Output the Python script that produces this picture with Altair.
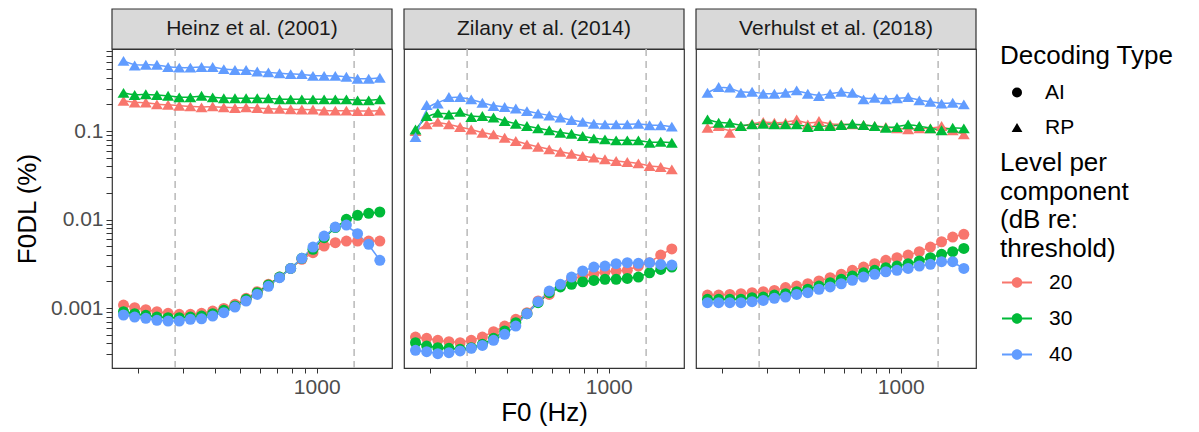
import altair as alt
import pandas as pd

FONT = "Liberation Sans"

# ---------------- data ----------------
F0 = [176, 194.6, 215.1, 237.7, 262.8, 290.5, 321.1, 355.0, 392.4, 433.7, 479.5, 530.0,
      585.9, 647.6, 715.9, 791.4, 874.8, 967.0, 1069, 1182, 1306, 1444, 1596, 1764]

MODELS = ["Heinz et al. (2001)", "Zilany et al. (2014)", "Verhulst et al. (2018)"]
LEVELS = ["20", "30", "40"]
TYPES = ["AI", "RP"]
COLORS = ["#F8766D", "#00BA38", "#619CFF"]
VLINES = [280, 1400]

HEINZ_RP_20 = [0.22, 0.21, 0.21, 0.20, 0.198, 0.193, 0.19, 0.185, 0.19, 0.185, 0.182, 0.185,
               0.182, 0.178, 0.178, 0.176, 0.175, 0.175, 0.17, 0.17, 0.17, 0.168, 0.168, 0.17]
HEINZ_RP_30 = [0.27, 0.255, 0.26, 0.255, 0.25, 0.24, 0.24, 0.25, 0.24, 0.235, 0.235, 0.235,
               0.235, 0.235, 0.228, 0.228, 0.228, 0.228, 0.228, 0.228, 0.228, 0.222, 0.222, 0.228]
HEINZ_RP_40 = [0.62, 0.55, 0.56, 0.56, 0.53, 0.52, 0.52, 0.53, 0.53, 0.50, 0.49, 0.49,
               0.47, 0.46, 0.45, 0.44, 0.44, 0.42, 0.42, 0.42, 0.41, 0.39, 0.39, 0.40]
HEINZ_AI_20 = [0.00108, 0.00101, 0.000957, 0.00091, 0.00087, 0.000848, 0.000848, 0.00087,
               0.000925, 0.00099, 0.0011, 0.001286, 0.00153, 0.00185, 0.00224, 0.0028,
               0.00355, 0.00422, 0.00502, 0.00547, 0.00571, 0.00571, 0.00571, 0.00571]
HEINZ_AI_30 = [0.00091, 0.000863, 0.000826, 0.000791, 0.000778, 0.000778, 0.000791, 0.000812,
               0.000863, 0.000942, 0.001054, 0.001253, 0.00149, 0.00182, 0.00224, 0.0028,
               0.00364, 0.0046, 0.00623, 0.0081, 0.01005, 0.01114, 0.01175, 0.01216]
HEINZ_AI_40 = [0.000834, 0.000791, 0.000764, 0.000726, 0.000713, 0.000713, 0.000745, 0.000754,
               0.000812, 0.000885, 0.001026, 0.0012, 0.001426, 0.001758, 0.0022, 0.0028,
               0.00364, 0.00489, 0.00651, 0.00822, 0.00866, 0.00692, 0.00524, 0.00346]

ZILANY_RP_20 = [0.1, 0.119, 0.127, 0.119, 0.111, 0.104, 0.0957, 0.0917, 0.084, 0.077, 0.0707, 0.0665,
                0.0621, 0.0584, 0.0554, 0.0522, 0.05, 0.0479, 0.0458, 0.0447, 0.0431, 0.0402, 0.0392, 0.0369]
ZILANY_RP_30 = [0.104, 0.148, 0.161, 0.154, 0.165, 0.144, 0.148, 0.142, 0.130, 0.121, 0.114, 0.107,
                0.102, 0.0957, 0.0933, 0.0879, 0.0826, 0.0805, 0.0785, 0.0785, 0.0785, 0.0738, 0.0757, 0.0738]
ZILANY_RP_40 = [0.0855, 0.197, 0.204, 0.242, 0.242, 0.228, 0.209, 0.192, 0.187, 0.180, 0.168, 0.158,
                0.150, 0.142, 0.133, 0.127, 0.121, 0.119, 0.119, 0.119, 0.121, 0.116, 0.116, 0.112]
ZILANY_AI_20 = [0.00047, 0.000454, 0.000431, 0.000417, 0.000405, 0.000431, 0.00047, 0.00054,
                0.000626, 0.000745, 0.000885, 0.0012, 0.001426, 0.00177, 0.00211, 0.0023,
                0.00244, 0.00257, 0.00262, 0.00267, 0.00298, 0.00325, 0.00397, 0.00465]
ZILANY_AI_30 = [0.000405, 0.000372, 0.000356, 0.00035, 0.000341, 0.000356, 0.000389, 0.000454,
                0.00055, 0.000682, 0.000863, 0.00115, 0.00149, 0.00173, 0.00185, 0.00198,
                0.00205, 0.00211, 0.00211, 0.00216, 0.00224, 0.0025, 0.00273, 0.0029]
ZILANY_AI_40 = [0.000333, 0.000321, 0.000305, 0.000313, 0.000327, 0.00035, 0.000378, 0.000431,
                0.000504, 0.000626, 0.000863, 0.00118, 0.001556, 0.00185, 0.00224, 0.00262,
                0.0029, 0.00298, 0.00317, 0.00325, 0.0032, 0.00325, 0.00311, 0.00306]

VERHULST_RP_20 = [0.109, 0.114, 0.0957, 0.114, 0.121, 0.127, 0.124, 0.124, 0.1355, 0.119, 0.130, 0.119,
                  0.119, 0.119, 0.117, 0.114, 0.111, 0.107, 0.1045, 0.107, 0.107, 0.114, 0.102, 0.0917]
VERHULST_RP_30 = [0.1355, 0.124, 0.124, 0.114, 0.119, 0.121, 0.119, 0.119, 0.119, 0.111, 0.114, 0.114,
                  0.117, 0.121, 0.117, 0.114, 0.109, 0.111, 0.119, 0.114, 0.107, 0.102, 0.109, 0.107]
VERHULST_RP_40 = [0.271, 0.314, 0.309, 0.271, 0.278, 0.264, 0.264, 0.271, 0.288, 0.264, 0.249, 0.264,
                  0.278, 0.271, 0.228, 0.238, 0.228, 0.234, 0.242, 0.222, 0.214, 0.204, 0.209, 0.2]
VERHULST_AI_20 = [0.0014, 0.0014, 0.001426, 0.00145, 0.00149, 0.00153, 0.00158, 0.0017,
                  0.00177, 0.00188, 0.00202, 0.0022, 0.0024, 0.00267, 0.0029, 0.00317,
                  0.00346, 0.00371, 0.00397, 0.00433, 0.00489, 0.00561, 0.00634, 0.0068]
VERHULST_AI_30 = [0.001253, 0.001253, 0.001253, 0.001253, 0.00131, 0.00133, 0.0014, 0.00145,
                  0.00153, 0.00163, 0.00177, 0.00193, 0.00211, 0.0023, 0.0025, 0.00267,
                  0.00286, 0.00298, 0.00317, 0.0034, 0.00371, 0.00404, 0.00433, 0.00472]
VERHULST_AI_40 = [0.00115, 0.00115, 0.00115, 0.00115, 0.00118, 0.00122, 0.001286, 0.00133,
                  0.001426, 0.00149, 0.00163, 0.00173, 0.00188, 0.00206, 0.00224, 0.0024,
                  0.00257, 0.00267, 0.0028, 0.00298, 0.00312, 0.00334, 0.00334, 0.0028]

SERIES = {
    MODELS[0]: {"AI": [HEINZ_AI_20, HEINZ_AI_30, HEINZ_AI_40],
                "RP": [HEINZ_RP_20, HEINZ_RP_30, HEINZ_RP_40]},
    MODELS[1]: {"AI": [ZILANY_AI_20, ZILANY_AI_30, ZILANY_AI_40],
                "RP": [ZILANY_RP_20, ZILANY_RP_30, ZILANY_RP_40]},
    MODELS[2]: {"AI": [VERHULST_AI_20, VERHULST_AI_30, VERHULST_AI_40],
                "RP": [VERHULST_RP_20, VERHULST_RP_30, VERHULST_RP_40]},
}

X_TICKS = [200, 300, 400, 500, 600, 700, 800, 900, 1000]
Y_TICKS = [round(k * 10 ** e, 6) for e in (-4, -3, -2, -1) for k in range(1, 10)]
Y_TICKS = [v for v in Y_TICKS if 0.00021 <= v <= 0.845]


def frame(model):
    rows = []
    for typ in TYPES:
        for lev, vals in zip(LEVELS, SERIES[model][typ]):
            for f, v in zip(F0, vals):
                rows.append({"F0": f, "F0DL": v, "type": typ, "level": lev})
    return pd.DataFrame(rows)


W, H, STRIP = 280, 319, 40
xscale = alt.Scale(type="log", domain=[158.7, 1968], nice=False)
yscale = alt.Scale(type="log", domain=[0.00021, 0.845], nice=False)
cscale = alt.Scale(domain=LEVELS, range=COLORS)
TRI = "M0,-0.9L1.08,0.9L-1.08,0.9Z"
sscale = alt.Scale(domain=TYPES, range=["circle", TRI])

LEG_X = 882
shape_legend = alt.Legend(
    title="Decoding Type", orient="none", legendX=LEG_X, legendY=-12, padding=6,
    titleBaseline="top",
    symbolSize=100, symbolFillColor="black", symbolStrokeColor="black", symbolStrokeWidth=0,
    symbolOffset=6.5, labelOffset=17.5, rowPadding=13, titlePadding=13)

SYM = ("M-1,-0.07H-0.3V0.07H-1Z M0.3,-0.07H1V0.07H0.3Z "
       "M0.35,0A0.35,0.35,0,1,1,-0.35,0A0.35,0.35,0,1,1,0.35,0Z")
color_legend = alt.Legend(
    title=["Level per", "component", "(dB re:", "threshold)"], orient="none",
    legendX=LEG_X, legendY=95, padding=6, titleBaseline="top",
    symbolType=SYM, symbolSize=900, symbolStrokeWidth=0,
    symbolOffset=2, labelOffset=17, rowPadding=11, titlePadding=6, titleLineHeight=28.5)


def xaxis(title):
    return alt.Axis(values=X_TICKS, labelExpr="datum.value == 1000 ? '1000' : ''",
                    tickSize=5, tickColor="#333333", domain=False, grid=False,
                    labelFontSize=21, labelColor="#4D4D4D", labelPadding=3, labelOverlap=False,
                    labelFlush=False, title=title if title else "", titleFontSize=26,
                    titleFontWeight="normal", titleColor="black", titlePadding=2)


def yaxis():
    return alt.Axis(values=Y_TICKS,
                    labelExpr="datum.value == 0.1 ? '0.1' : datum.value == 0.01 ? '0.01' : datum.value == 0.001 ? '0.001' : ''",
                    tickSize=6, tickColor="#333333", domain=False, grid=False,
                    labelFontSize=21, labelColor="#4D4D4D", labelPadding=3, labelOverlap=False,
                    labelFlush=False, title="F0DL (%)", titleFontSize=26,
                    titleFontWeight="normal", titleColor="black", titlePadding=10)


def panel(i, model):
    df = frame(model)
    xa = xaxis("F0 (Hz)" if i == 1 else None)
    ya = yaxis() if i == 0 else None
    yenc_kw = dict(scale=yscale, axis=ya)

    head = pd.DataFrame({"t": [model]})
    strip_bg = alt.Chart(head).mark_rect(
        fill="#D9D9D9", stroke="#333333", strokeWidth=1.2
    ).encode(x=alt.value(0), x2=alt.value(W), y=alt.value(-STRIP), y2=alt.value(0))
    strip_txt = alt.Chart(head).mark_text(
        fontSize=21, font=FONT, color="#1A1A1A", align="center", baseline="middle"
    ).encode(text="t:N", x=alt.value(W / 2), y=alt.value(-STRIP / 2))

    rules = alt.Chart(pd.DataFrame({"F0": VLINES})).mark_rule(
        color="#BDBDBD", strokeDash=[7, 5], strokeWidth=1.6
    ).encode(x=alt.X("F0:Q", scale=xscale, axis=xa))

    lines = alt.Chart(df).mark_line(strokeWidth=1.5, interpolate="basis").encode(
        x=alt.X("F0:Q", scale=xscale, axis=xa),
        y=alt.Y("F0DL:Q", **yenc_kw),
        stroke=alt.Stroke("level:N", scale=cscale, legend=color_legend),
        detail="type:N",
    )

    points = alt.Chart(df).mark_point(filled=True, opacity=1, size=121).encode(
        x=alt.X("F0:Q", scale=xscale, axis=xa),
        y=alt.Y("F0DL:Q", **yenc_kw),
        color=alt.Color("level:N", scale=cscale, legend=color_legend),
        shape=alt.Shape("type:N", scale=sscale, legend=shape_legend),
    )

    return alt.layer(strip_bg, strip_txt, rules, lines, points).properties(width=W, height=H)


chart = alt.hconcat(*[panel(i, m) for i, m in enumerate(MODELS)], spacing=8).resolve_scale(
    color="shared", shape="shared", stroke="shared"
).properties(
    padding={"left": 13, "top": 7, "right": 5, "bottom": 5}, background="white"
).configure(font=FONT).configure_view(
    stroke="#333333", strokeWidth=1.2
).configure_legend(
    titleFontSize=26, titleFontWeight="normal", titleColor="black", titleFont=FONT,
    labelFontSize=21, labelColor="black", labelFont=FONT,
    symbolBaseFillColor="black", symbolBaseStrokeColor="black"
)

chart.save("out.html", embed_options={"renderer": "svg", "actions": False})
